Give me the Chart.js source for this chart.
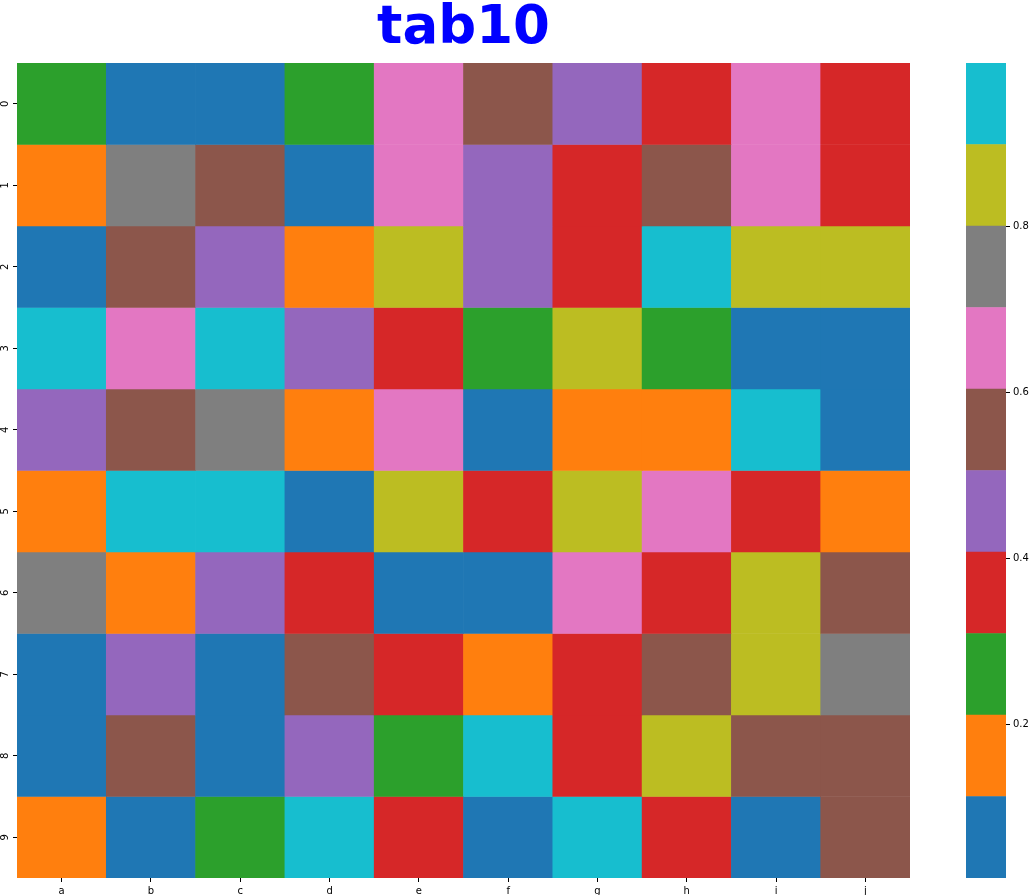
<!DOCTYPE html>
<html>
<head>
<meta charset="utf-8">
<script src="https://cdn.jsdelivr.net/npm/chart.js@4/dist/chart.umd.min.js"></script>
<style>
  html, body { margin: 0; padding: 0; background: #fff; }
  #wrap { position: relative; width: 1029px; height: 895px; overflow: hidden; }
  #heat { position: absolute; left: 0; top: 0; display: block; }
  #cbar { position: absolute; left: 940px; top: 0; display: block; }
</style>
</head>
<body>
<div id="wrap">
  <canvas id="heat" width="940" height="895"></canvas>
  <canvas id="cbar" width="89" height="895"></canvas>
</div>
<script>
// ---- data ----
const titleText = 'tab10';
const columns = ['a', 'b', 'c', 'd', 'e', 'f', 'g', 'h', 'i', 'j'];
const rowLabels = ['0', '1', '2', '3', '4', '5', '6', '7', '8', '9'];
const row0 = [0.26, 0.08, 0.05, 0.23, 0.66, 0.55, 0.47, 0.37, 0.62, 0.34];
const row1 = [0.15, 0.74, 0.57, 0.03, 0.69, 0.43, 0.32, 0.52, 0.65, 0.39];
const row2 = [0.10, 0.59, 0.44, 0.18, 0.86, 0.49, 0.35, 0.97, 0.83, 0.88];
const row3 = [0.93, 0.63, 0.9962, 0.46, 0.318, 0.27, 0.81, 0.24, 0.07, 0.0155];
const row4 = [0.415, 0.54, 0.77, 0.12, 0.61, 0.09, 0.20, 0.16, 0.95, 0.04];
const row5 = [0.14, 0.91, 0.98, 0.06, 0.89, 0.36, 0.84, 0.68, 0.33, 0.19];
const row6 = [0.72, 0.17, 0.48, 0.40, 0.02, 0.11, 0.64, 0.38, 0.85, 0.56];
const row7 = [0.05, 0.45, 0.08, 0.60, 0.34, 0.13, 0.37, 0.53, 0.82, 0.79];
const row8 = [0.03, 0.58, 0.10, 0.425, 0.29, 0.94, 0.32, 0.87, 0.515, 0.57];
const row9 = [0.18, 0.07, 0.25, 0.92, 0.39, 0.04, 0.96, 0.35, 0.06, 0.55];
const colorbarTicks = [0.2, 0.4, 0.6, 0.8];
const tab10 = ['#1f77b4', '#ff7f0e', '#2ca02c', '#d62728', '#9467bd',
               '#8c564b', '#e377c2', '#7f7f7f', '#bcbd22', '#17becf'];

// ---- derived ----
const values = [row0, row1, row2, row3, row4, row5, row6, row7, row8, row9];
const flat = values.flat();
const vmin = Math.min(...flat);
const vmax = Math.max(...flat);
function colorFor(v) {
  let i = Math.floor((v - vmin) / (vmax - vmin) * tab10.length);
  if (i >= tab10.length) i = tab10.length - 1;
  if (i < 0) i = 0;
  return tab10[i];
}

const tickFont = { family: 'DejaVu Sans', size: 10 };
const tickColor = '#000';

const heatDatasets = rowLabels.map((lab, ri) => ({
  label: lab,
  data: values[ri].map(() => [ri, ri + 1]),
  backgroundColor: values[ri].map(colorFor),
  borderWidth: 0,
  barPercentage: 1,
  categoryPercentage: 1,
  grouped: false
}));

new Chart(document.getElementById('heat'), {
  type: 'bar',
  data: { labels: columns, datasets: heatDatasets },
  options: {
    responsive: false,
    animation: false,
    layout: { padding: { left: 0, right: 30, top: 0, bottom: 0 } },
    plugins: {
      legend: { display: false },
      tooltip: { enabled: false },
      title: {
        display: true,
        fullSize: false,
        text: titleText,
        color: '#0000ff',
        font: { family: 'DejaVu Sans', size: 53, weight: 'bold', lineHeight: 1 },
        padding: { top: 3, bottom: 7 }
      }
    },
    scales: {
      x: {
        type: 'category',
        offset: true,
        grid: { display: true, drawOnChartArea: false, drawTicks: true, tickLength: 4, tickColor: tickColor, offset: false, lineWidth: 1 },
        border: { display: false },
        ticks: { font: tickFont, color: tickColor, padding: 3, maxRotation: 0, minRotation: 0 },
        afterFit: (s) => { s.height = 17; }
      },
      y: {
        type: 'linear',
        min: 0,
        max: rowLabels.length,
        reverse: true,
        grid: { display: true, drawOnChartArea: false, drawTicks: true, tickLength: 4, tickColor: tickColor, lineWidth: 1 },
        border: { display: false },
        afterBuildTicks: (s) => { s.ticks = rowLabels.map((_, i) => ({ value: i + 0.5 })); },
        ticks: {
          font: tickFont, color: tickColor, padding: 4,
          minRotation: 90, maxRotation: 90, crossAlign: 'center',
          callback: (v) => rowLabels[Math.floor(v)]
        },
        afterFit: (s) => { s.width = 17; }
      }
    }
  }
});

const step = (vmax - vmin) / tab10.length;
const cbarDatasets = tab10.map((c, i) => ({
  data: [[vmin + i * step, vmin + (i + 1) * step]],
  backgroundColor: c,
  borderWidth: 0,
  barPercentage: 1,
  categoryPercentage: 1,
  grouped: false
}));

new Chart(document.getElementById('cbar'), {
  type: 'bar',
  data: { labels: [''], datasets: cbarDatasets },
  options: {
    responsive: false,
    animation: false,
    layout: { padding: { left: 26, right: 0, top: 63, bottom: 17 } },
    plugins: { legend: { display: false }, tooltip: { enabled: false }, title: { display: false } },
    scales: {
      x: { display: false },
      y: {
        type: 'linear',
        position: 'right',
        min: vmin,
        max: vmax,
        grid: { display: true, drawOnChartArea: false, drawTicks: true, tickLength: 4, tickColor: tickColor, lineWidth: 1 },
        border: { display: false },
        afterBuildTicks: (s) => { s.ticks = colorbarTicks.map(v => ({ value: v })); },
        ticks: { font: tickFont, color: tickColor, padding: 3, callback: (v) => Number(v).toFixed(1) },
        afterFit: (s) => { s.width = 23; }
      }
    }
  }
});
</script>
</body>
</html>
